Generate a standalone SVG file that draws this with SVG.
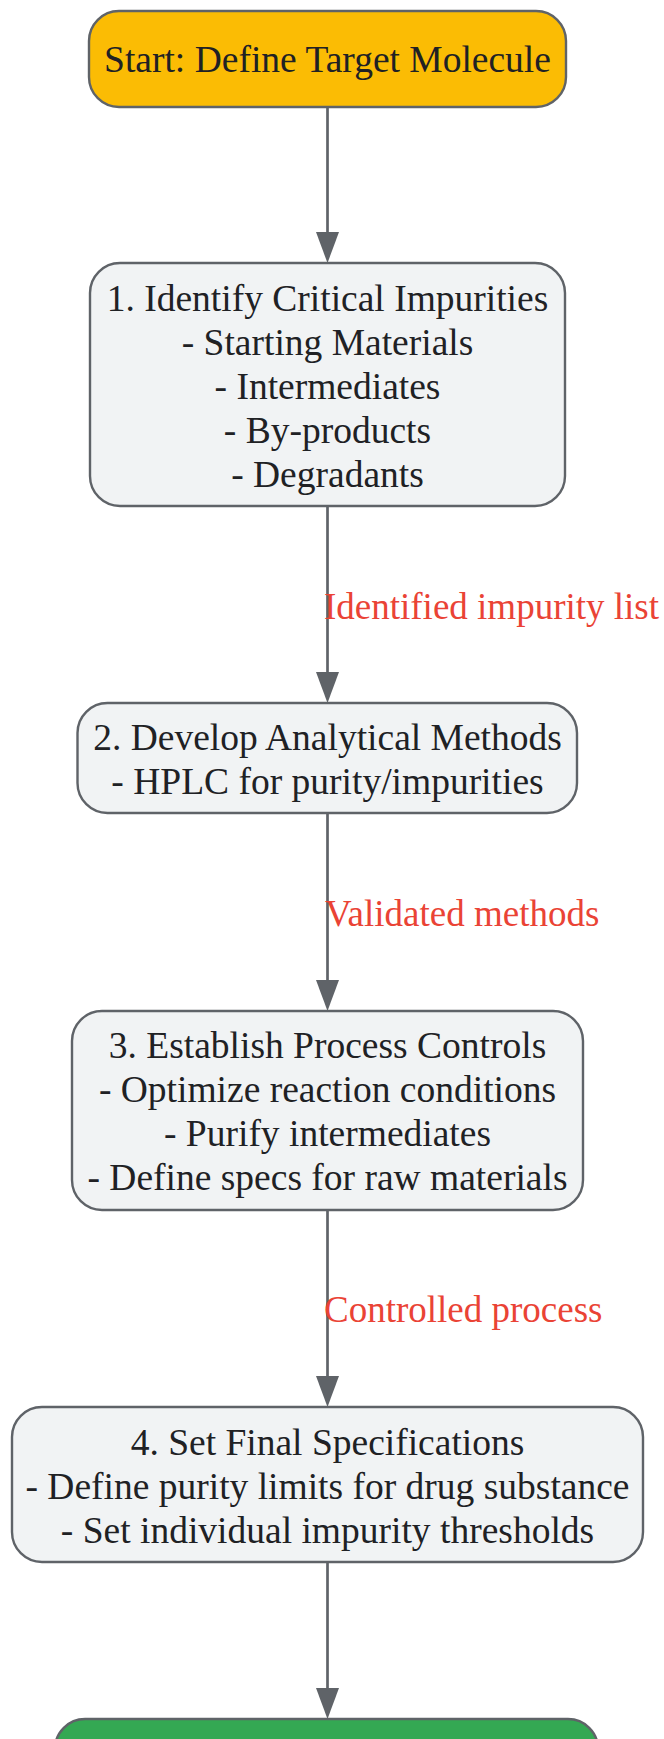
<svg xmlns="http://www.w3.org/2000/svg" width="664" height="1739" viewBox="0 0 664 1739">
  <style>
    .node rect { stroke: #5f6368; stroke-width: 2.4; }
    .box { fill: #f1f3f4; }
    .start { fill: #fbbc04; }
    .end { fill: #34a853; }
    .t { font-family: "Liberation Serif", "Times New Roman", serif; font-size: 37.5px; fill: #202124; text-anchor: middle; }
    .lbl { font-family: "Liberation Serif", "Times New Roman", serif; font-size: 37px; fill: #ea4335; text-anchor: start; }
    .edge { stroke: #5f6368; stroke-width: 2.7; fill: none; }
    .head { fill: #5f6368; }
  </style>
  <rect x="0" y="0" width="664" height="1739" fill="#ffffff"/>

  <g id="connectors">
    <line class="edge" x1="327.5" y1="107" x2="327.5" y2="235"/>
    <polygon class="head" points="316,232 339,232 327.5,263"/>
    <line class="edge" x1="327.5" y1="506" x2="327.5" y2="675"/>
    <polygon class="head" points="316,672 339,672 327.5,703"/>
    <line class="edge" x1="327.5" y1="813" x2="327.5" y2="983"/>
    <polygon class="head" points="316,980 339,980 327.5,1011"/>
    <line class="edge" x1="327.5" y1="1210" x2="327.5" y2="1379"/>
    <polygon class="head" points="316,1376 339,1376 327.5,1407"/>
    <line class="edge" x1="327.5" y1="1562" x2="327.5" y2="1691"/>
    <polygon class="head" points="316,1688 339,1688 327.5,1719"/>
    <text class="lbl" x="324" y="619">Identified impurity list</text>
    <text class="lbl" x="325" y="926">Validated methods</text>
    <text class="lbl" x="324" y="1322">Controlled process</text>
  </g>

  <g id="start" class="node">
    <rect class="start" x="89" y="11" width="477" height="96" rx="30" ry="30"/>
    <text class="t" x="327.5" y="72">Start: Define Target Molecule</text>
  </g>

  <g id="step1" class="node">
    <rect class="box" x="90" y="263" width="475" height="243" rx="30" ry="30"/>
    <text class="t" x="327.5" y="310.5">1. Identify Critical Impurities</text>
    <text class="t" x="327.5" y="354.5">- Starting Materials</text>
    <text class="t" x="327.5" y="398.5">- Intermediates</text>
    <text class="t" x="327.5" y="442.5">- By-products</text>
    <text class="t" x="327.5" y="486.5">- Degradants</text>
  </g>

  <g id="step2" class="node">
    <rect class="box" x="77.5" y="703" width="499.5" height="110" rx="30" ry="30"/>
    <text class="t" x="327.5" y="749.5">2. Develop Analytical Methods</text>
    <text class="t" x="327.5" y="793.5">- HPLC for purity/impurities</text>
  </g>

  <g id="step3" class="node">
    <rect class="box" x="72" y="1011" width="511" height="199" rx="30" ry="30"/>
    <text class="t" x="327.5" y="1057.5">3. Establish Process Controls</text>
    <text class="t" x="327.5" y="1101.5">- Optimize reaction conditions</text>
    <text class="t" x="327.5" y="1145.5">- Purify intermediates</text>
    <text class="t" x="327.5" y="1189.5">- Define specs for raw materials</text>
  </g>

  <g id="step4" class="node">
    <rect class="box" x="12" y="1407" width="631" height="155" rx="30" ry="30"/>
    <text class="t" x="327.5" y="1454.5">4. Set Final Specifications</text>
    <text class="t" x="327.5" y="1498.5">- Define purity limits for drug substance</text>
    <text class="t" x="327.5" y="1542.5">- Set individual impurity thresholds</text>
  </g>

  <g id="end" class="node">
    <rect class="end" x="55" y="1719" width="543" height="110" rx="30" ry="30"/>
  </g>
</svg>
